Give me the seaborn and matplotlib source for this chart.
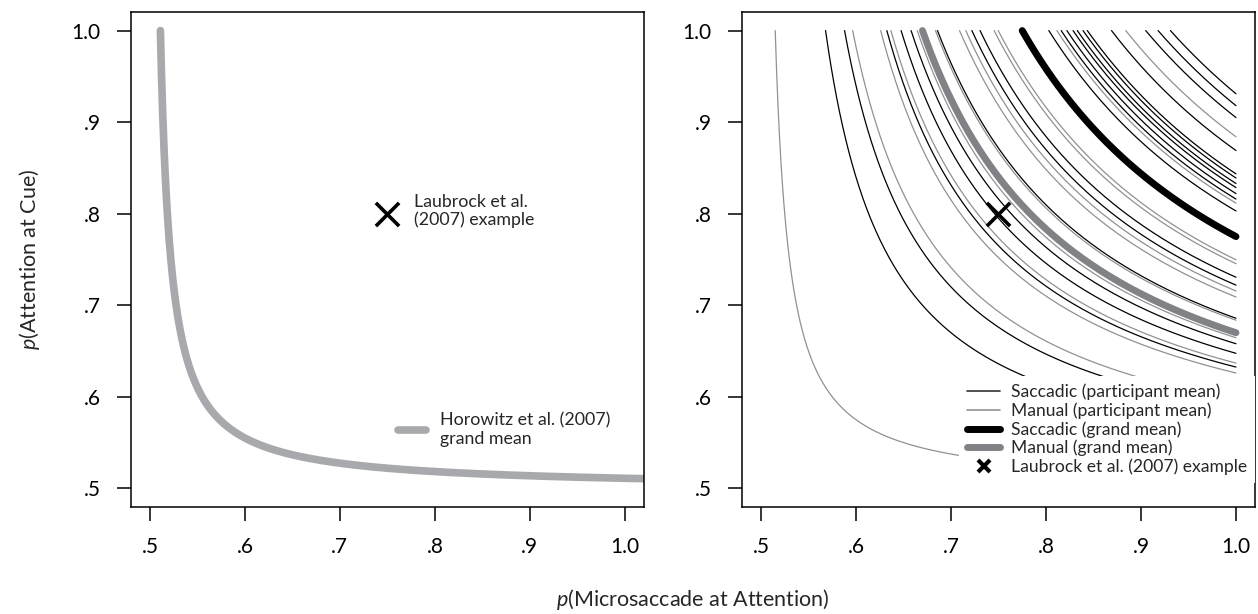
"""
Iso-lines of microsaccade direction vs. attention, two panels.
"""
import numpy as np
import pandas as pd
import matplotlib
matplotlib.use('Agg')
import matplotlib.pyplot as plt
import seaborn as sns
from matplotlib.lines import Line2D

horowitz_mean = 0.511
saccadic_participants = [0.931, 0.918, 0.905, 0.869, 0.8435, 0.839, 0.833, 0.8285,
                         0.822, 0.816, 0.803, 0.7306, 0.722, 0.6858, 0.658, 0.6475,
                         0.6325, 0.588, 0.568]
manual_participants = [0.884, 0.8115, 0.773, 0.7497, 0.7454, 0.7156, 0.709, 0.6837,
                       0.6645, 0.6368, 0.626, 0.5965, 0.515]
saccadic_grand = 0.775
manual_grand = 0.67
laubrock_x = [0.75]
laubrock_y = [0.80]

tick_values = [0.5, 0.6, 0.7, 0.8, 0.9, 1.0]
tick_labels = ['.5', '.6', '.7', '.8', '.9', '1.0']

FONT = ['Lato', 'DejaVu Sans']


def iso_curve(m, x_end=1.0):
    """p(attention at cue) that gives observed proportion m for each p(ms at attention)."""
    x = m + np.concatenate([[0.0], np.geomspace(1e-5, x_end - m, 600)])
    y = (m + x - 1) / (2 * x - 1)
    return x, y


def curves_frame(groups, x_end=1.0):
    parts = []
    for cond, vals in groups:
        for i, m in enumerate(vals):
            x, y = iso_curve(m, x_end)
            parts.append(pd.DataFrame({'x': x, 'y': y, 'cond': cond, 'unit': f'{cond}{i}'}))
    return pd.concat(parts, ignore_index=True)


sns.set_style('white')
plt.rcParams['font.family'] = FONT
plt.rcParams['mathtext.fontset'] = 'custom'
plt.rcParams['mathtext.it'] = 'Lato:italic'
plt.rcParams['mathtext.rm'] = 'Lato'

fig = plt.figure(figsize=(12.58, 6.14), dpi=100)
ax1 = fig.add_axes([0.1041, 0.1748, 0.4076, 0.8052])
ax2 = fig.add_axes([0.5898, 0.1748, 0.4078, 0.8052])

for ax in (ax1, ax2):
    ax.set_xlim(0.48, 1.02)
    ax.set_ylim(0.48, 1.02)
    ax.set_xticks(tick_values)
    ax.set_xticklabels(tick_labels)
    ax.set_yticks(tick_values)
    ax.set_yticklabels(tick_labels)
    ax.tick_params(direction='out', length=10, width=1.1, labelsize=15,
                   bottom=True, left=True, color='black', labelcolor='black')
    ax.tick_params(axis='y', pad=12)
    ax.tick_params(axis='x', pad=12)
    for sp in ax.spines.values():
        sp.set_visible(True)
        sp.set_color('black')
        sp.set_linewidth(1.1)

# left panel: Horowitz grand mean
left_df = curves_frame([('Horowitz', [horowitz_mean])], x_end=1.05)
sns.lineplot(data=left_df, x='x', y='y', units='unit', estimator=None, sort=False,
             color='#a7a9ac', lw=5.5, solid_capstyle='round', legend=False, ax=ax1)
sns.scatterplot(x=laubrock_x, y=laubrock_y, marker='x', s=280, color='black',
                linewidth=2.6, ax=ax1, zorder=5)
ax1.text(0.778, 0.803, 'Laubrock et al.\n(2007) example', ha='left', va='center',
         fontsize=12.8, linespacing=1.15)
ax1.legend([Line2D([0], [0], color='#a7a9ac', lw=5.5, solid_capstyle='round')],
           ['Horowitz et al. (2007)\ngrand mean'], loc='center left',
           bbox_to_anchor=(0.503, 0.155), frameon=False, fontsize=12.8,
           handlelength=1.6, handletextpad=0.75, borderpad=0)
ax1.set_xlabel('')
ax1.set_ylabel('')

# right panel: participant means and grand means
thin_df = curves_frame([('Manual', manual_participants), ('Saccadic', saccadic_participants)])
sns.lineplot(data=thin_df, x='x', y='y', hue='cond', units='unit', estimator=None,
             sort=False, palette={'Saccadic': 'black', 'Manual': '#8f9194'},
             lw=0.9, legend=False, ax=ax2)
grand_df = curves_frame([('Manual', [manual_grand]), ('Saccadic', [saccadic_grand])])
sns.lineplot(data=grand_df, x='x', y='y', hue='cond', units='unit', estimator=None,
             sort=False, palette={'Saccadic': 'black', 'Manual': '#808285'},
             lw=5, solid_capstyle='round', legend=False, ax=ax2)
sns.scatterplot(x=laubrock_x, y=laubrock_y, marker='x', s=280, color='black',
                linewidth=2.6, ax=ax2, zorder=5)

handles = [
    Line2D([0], [0], color='#333333', lw=1.2),
    Line2D([0], [0], color='#8f9194', lw=1.2),
    Line2D([0], [0], color='black', lw=5, solid_capstyle='round'),
    Line2D([0], [0], color='#808285', lw=5, solid_capstyle='round'),
    Line2D([0], [0], color='black', lw=0, marker='x', markersize=9, markeredgewidth=3),
]
labels = ['Saccadic (participant mean)', 'Manual (participant mean)',
          'Saccadic (grand mean)', 'Manual (grand mean)', 'Laubrock et al. (2007) example']
leg = ax2.legend(handles, labels, loc='upper right', bbox_to_anchor=(1.0, 0.2644),
                 borderaxespad=0, frameon=True, facecolor='white', edgecolor='none',
                 framealpha=1, fancybox=False, fontsize=12.6, handlelength=1.9,
                 handletextpad=0.6, labelspacing=0.12, borderpad=0.45)
ax2.set_xlabel('')
ax2.set_ylabel('')

fig.text(693 / 1258, 1 - 600 / 614, r'$p$(Microsaccade at Attention)', ha='center',
         va='center', fontsize=15.5)
fig.text(30 / 1258, 1 - 259.5 / 614, r'$p$(Attention at Cue)', ha='center',
         va='center', rotation=90, fontsize=15.5)

fig.savefig('out.png', dpi=100)
plt.close(fig)
